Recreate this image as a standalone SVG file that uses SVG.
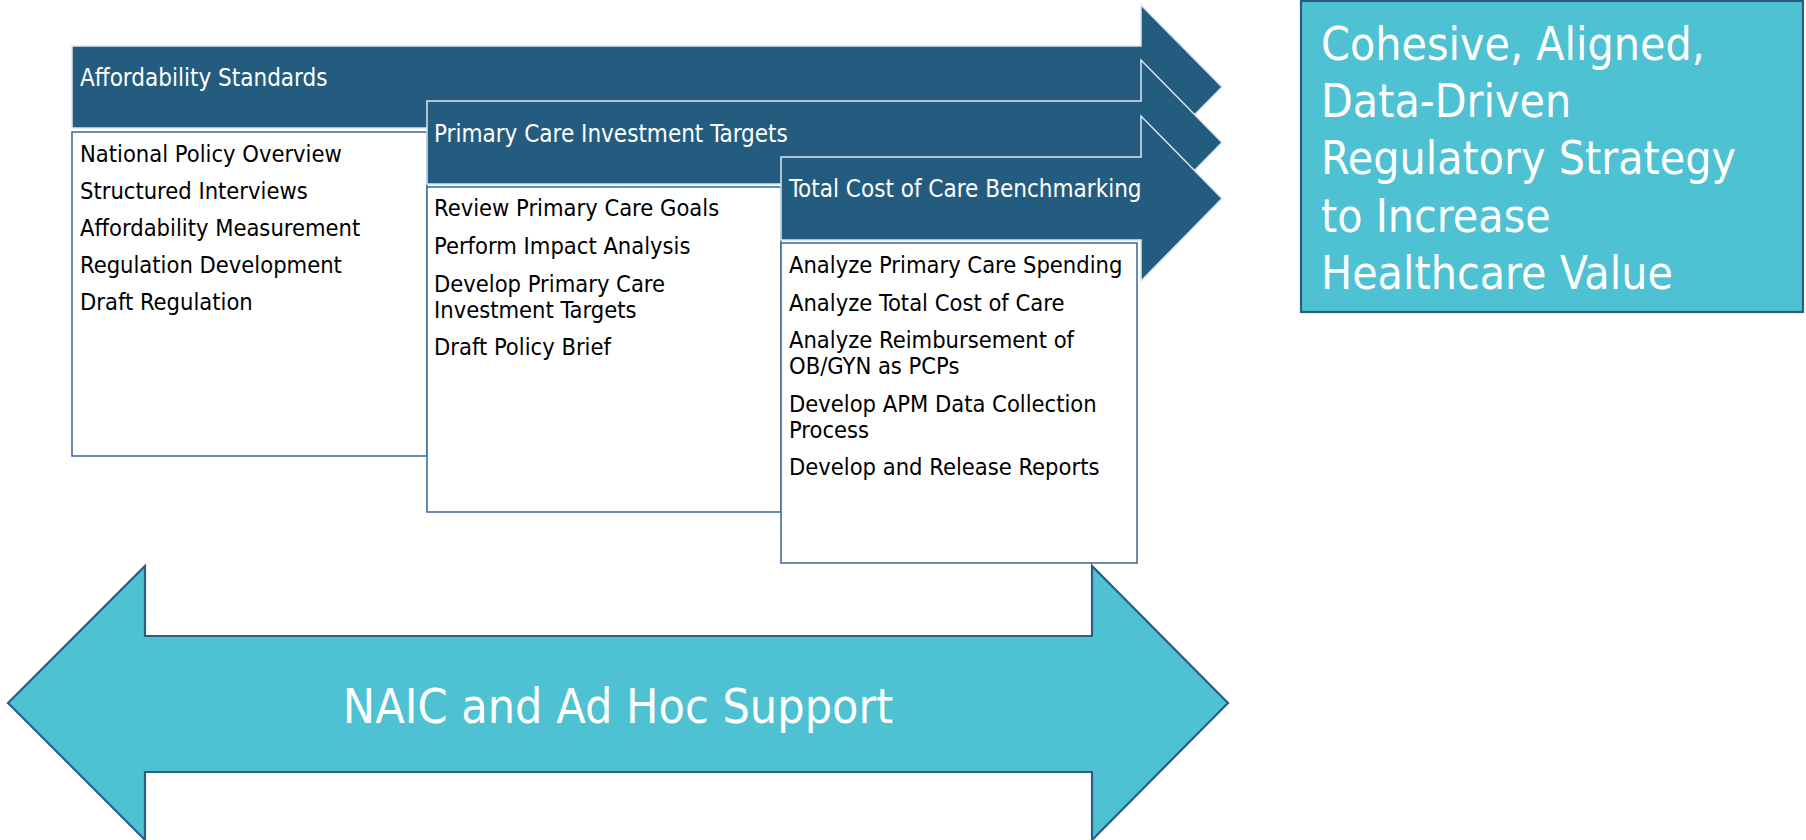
<svg xmlns="http://www.w3.org/2000/svg" width="1806" height="840" viewBox="0 0 1806 840">
<style>
.bar{fill:#245C80;stroke:#DCE6EE;stroke-width:1.5}
.box{fill:#FFFFFF;stroke:#41709A;stroke-width:1.6}
.teal{fill:#4EC1D2;stroke:#2C5E84;stroke-width:2.2}
text{font-family:"DejaVu Sans Condensed","DejaVu Sans",sans-serif;font-stretch:condensed}
.t{font-size:23.5px;fill:#000000}
.h{font-size:24px;fill:#FFFFFF}
.big{font-size:46px;fill:#FFFFFF}
</style>
<rect width="1806" height="840" fill="#FFFFFF"/>
<g id="connectors"></g>
<g id="bar-affordability">
<path class="bar" d="M72,46 H1141 V5 L1222,87 L1141,169 V128 H72 Z"/>
<text class="h" x="80" y="86">Affordability Standards</text>
</g>
<g id="box-affordability">
<rect class="box" x="72" y="132" width="355" height="324"/>
<text class="t" x="80" y="162">National Policy Overview</text>
<text class="t" x="80" y="199">Structured Interviews</text>
<text class="t" x="80" y="236">Affordability Measurement</text>
<text class="t" x="80" y="273">Regulation Development</text>
<text class="t" x="80" y="310">Draft Regulation</text>
</g>
<g id="bar-primary-care">
<path class="bar" d="M427,101 H1141 V60 L1222,142.5 L1141,225 V184 H427 Z"/>
<text class="h" x="434" y="142">Primary Care Investment Targets</text>
</g>
<g id="box-primary-care">
<rect class="box" x="427" y="187" width="354" height="325"/>
<text class="t" x="434" y="216">Review Primary Care Goals</text>
<text class="t" x="434" y="254">Perform Impact Analysis</text>
<text class="t" x="434" y="291.5">Develop Primary Care</text>
<text class="t" x="434" y="317.5">Investment Targets</text>
<text class="t" x="434" y="355">Draft Policy Brief</text>
</g>
<g id="bar-total-cost">
<path class="bar" d="M781,157 H1141 V116 L1222,198.5 L1141,281 V240 H781 Z"/>
<text class="h" x="789" y="197">Total Cost of Care Benchmarking</text>
</g>
<g id="box-total-cost">
<rect class="box" x="781" y="243" width="356" height="320"/>
<text class="t" x="789" y="273">Analyze Primary Care Spending</text>
<text class="t" x="789" y="310.5">Analyze Total Cost of Care</text>
<text class="t" x="789" y="347.5">Analyze Reimbursement of</text>
<text class="t" x="789" y="374">OB/GYN as PCPs</text>
<text class="t" x="789" y="411.5">Develop APM Data Collection</text>
<text class="t" x="789" y="437.5">Process</text>
<text class="t" x="789" y="475">Develop and Release Reports</text>
</g>
<g id="goal">
<rect class="teal" x="1301" y="1" width="502" height="311"/>
<text class="big" x="1321" y="60">Cohesive, Aligned,</text>
<text class="big" x="1321" y="117">Data-Driven</text>
<text class="big" x="1321" y="174">Regulatory Strategy</text>
<text class="big" x="1321" y="231.5">to Increase</text>
<text class="big" x="1321" y="288.5">Healthcare Value</text>
</g>
<g id="support">
<path class="teal" d="M8,703 L145,566 V636 H1092 V566 L1228,703 L1092,840 V772 H145 V840 Z"/>
<text class="big" x="618" y="722.5" text-anchor="middle" style="font-size:48px">NAIC and Ad Hoc Support</text>
</g>
</svg>
